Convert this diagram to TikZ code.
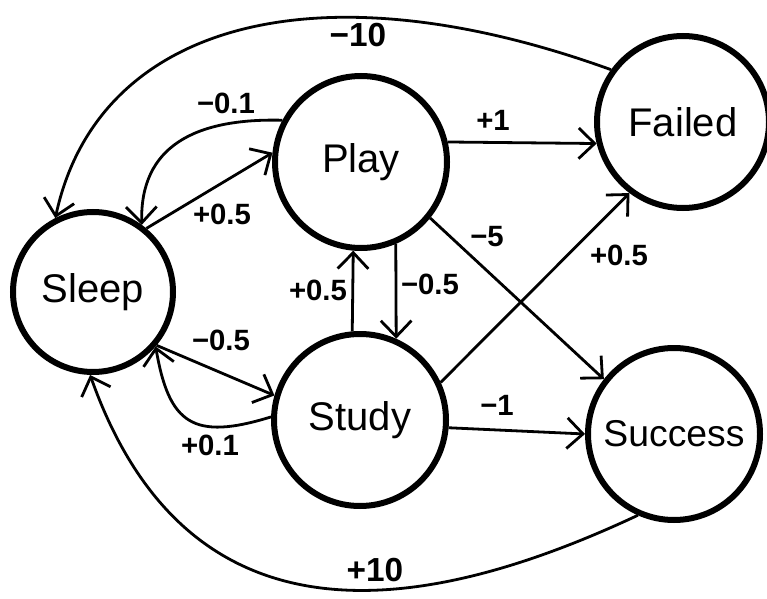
\documentclass[tikz,border=0pt]{standalone}
\usepackage{fontspec}
\setmainfont{Liberation Sans}
\usetikzlibrary{arrows.meta}
\tikzset{
  state/.style={draw, circle, line width=4.5pt, minimum size=129pt, inner sep=0pt,
    font=\fontsize{30}{30}\selectfont},
  edge/.style={line width=2.1pt, -{Straight Barb[length=12pt,width=23pt,line width=2.1pt]}},
  wt/.style={font=\fontsize{22}{22}\selectfont\bfseries},
  bigwt/.style={font=\fontsize{25}{25}\selectfont\bfseries},
}
\begin{document}
\begin{tikzpicture}[x=0.75pt, y=-0.75pt]
  \useasboundingbox (0,0) rectangle (767,599);
  \node [state, minimum size=120pt] (sleep) at (93,292) {Sleep};
  \node [state] (play) at (361,162) {Play};
  \node [state] (study) at (360,420) {Study};
  \node [state] (fail) at (683,122) {Failed};
  \node [state, font=\fontsize{28}{28}\selectfont] (succ) at (674,434) {Success};
  % outer arcs
  \draw [edge] (fail.144) .. controls (313,-38) and (97,25) .. (sleep.117);
  \draw [edge] (succ.246) .. controls (423,616) and (189,654) .. (sleep.268);
  % sleep <-> play, sleep <-> study
  \draw [edge] (play.152) .. controls (194,118) and (140,147) .. (sleep.54);
  \draw [edge] (sleep.50) -- (play.174);
  \draw [edge] (sleep.-40) -- (study.164);
  \draw [edge] (study.178) .. controls (193,441) and (169,424) .. (sleep.-41);
  % play <-> study
  \draw [edge] (play.-67) -- (study.66);
  \draw [edge] (study.95) -- (play.-95);
  % to the end states
  \draw [edge] (play.13) -- (fail.194);
  \draw [edge] (play.-39) -- (succ.142);
  \draw [edge] (study.25) -- (fail.233);
  \draw [edge] (study.-5) -- (succ.180);
  % weights
  \node [bigwt] (w1) at (358,35) {−10};
  \node [bigwt] (w2) at (375,570) {+10};
  \node [wt] (w3) at (226,103) {−0.1};
  \node [wt] (w4) at (222,214) {+0.5};
  \node [wt] (w5) at (493,120) {+1};
  \node [wt] (w6) at (487,237) {−5};
  \node [wt] (w7) at (619,255) {+0.5};
  \node [wt] (w8) at (318,290) {+0.5};
  \node [wt] (w9) at (430,284) {−0.5};
  \node [wt] (w10) at (221,340) {−0.5};
  \node [wt] (w11) at (210,445) {+0.1};
  \node [wt] (w12) at (497,405) {−1};
\end{tikzpicture}
\end{document}
